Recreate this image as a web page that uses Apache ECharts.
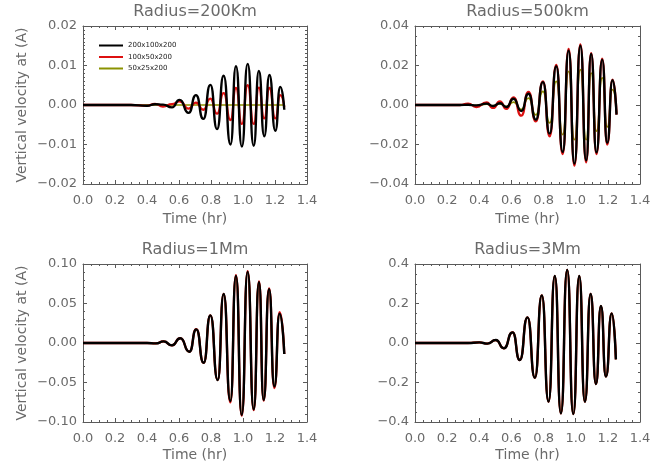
<!DOCTYPE html>
<html lang="en">
<head>
<meta charset="utf-8">
<title>Vertical velocity</title>
<script src="https://cdn.jsdelivr.net/npm/echarts@6/dist/echarts.min.js"></script>
<style>
    html, body { margin: 0; padding: 0; background: #fff; }
    #chart { width: 665px; height: 475px; }
</style>
</head>
<body>
<div id="chart"></div>
<script>
// ---- data (time in hr, velocity) ----
var names = ['200x100x200', '100x50x200', '50x25x200'];
var titles = ['Radius=200Km', 'Radius=500km', 'Radius=1Mm', 'Radius=3Mm'];

// Radius = 200 km
var t200 = [0.00, 0.30, 0.40, 0.45, 0.50, 0.556, 0.604, 0.660, 0.706, 0.752, 0.796, 0.838, 0.879, 0.922, 0.956, 0.993, 1.029, 1.067, 1.099, 1.133, 1.165, 1.202, 1.233, 1.258];
var black200 = [0, 0, -0.0002, 0.0002, 0.0001, -0.0006, 0.0013, -0.0020, 0.0025, -0.0035, 0.0051, -0.0061, 0.0074, -0.0100, 0.0098, -0.0105, 0.0104, -0.0103, 0.0086, -0.0079, 0.0076, -0.0065, 0.0046, -0.0012];
var red200 = [0, 0, -0.0002, 0.0003, -0.0004, 0.0002, 0.0009, -0.0009, 0.0006, -0.0012, 0.0016, -0.0022, 0.0030, -0.0038, 0.0043, -0.0048, 0.0050, -0.0048, 0.0044, -0.0034, 0.0043, -0.0034, 0.0025, -0.0005];
var olive200 = [0, 0, 0, 0, 0, 0, 0, 0, 0, 0, 0, 0, 0, 0, 0, 0, 0, 0, 0, 0, 0, 0, 0, 0];

// Radius = 500 km
var t500 = [0.00, 0.28, 0.33, 0.382, 0.445, 0.486, 0.528, 0.569, 0.613, 0.661, 0.706, 0.752, 0.796, 0.838, 0.879, 0.919, 0.956, 0.992, 1.029, 1.065, 1.096, 1.129, 1.165, 1.196, 1.229, 1.254];
var black500 = [0, 0, 0.0001, -0.0002, 0.0007, -0.0005, 0.0009, -0.0010, 0.0032, -0.0030, 0.0057, -0.0074, 0.0116, -0.0145, 0.0196, -0.0238, 0.0275, -0.0297, 0.0300, -0.0280, 0.0258, -0.0240, 0.0230, -0.0192, 0.0125, -0.0049];
var red500 = [0, 0, 0.0007, -0.0010, 0.0013, -0.0015, 0.0018, -0.0020, 0.0038, -0.0054, 0.0066, -0.0083, 0.0120, -0.0159, 0.0203, -0.0248, 0.0284, -0.0307, 0.0307, -0.0290, 0.0263, -0.0248, 0.0235, -0.0200, 0.0128, -0.0049];
var olive500 = [0, 0, 0.0002, -0.0003, 0.0004, -0.0004, 0.0006, -0.0008, 0.0015, -0.0022, 0.0035, -0.0050, 0.0069, -0.0091, 0.0120, -0.0150, 0.0170, -0.0176, 0.0179, -0.0176, 0.0162, -0.0133, 0.0137, -0.0111, 0.0078, -0.0040];

// Radius = 1 Mm (the three runs lie on top of each other)
var t1m = [0.00, 0.40, 0.455, 0.504, 0.556, 0.608, 0.665, 0.708, 0.754, 0.796, 0.842, 0.879, 0.921, 0.956, 0.992, 1.029, 1.067, 1.100, 1.129, 1.163, 1.196, 1.229, 1.258];
var black1m = [0, 0, -0.0005, 0.002, -0.003, 0.006, -0.011, 0.0173, -0.025, 0.035, -0.047, 0.062, -0.0734, 0.085, -0.091, 0.090, -0.084, 0.077, -0.072, 0.068, -0.055, 0.037, -0.014];
var red1m = [0, 0, -0.0005, 0.002, -0.003, 0.006, -0.011, 0.0175, -0.025, 0.035, -0.047, 0.062, -0.075, 0.086, -0.092, 0.091, -0.085, 0.078, -0.073, 0.069, -0.057, 0.039, -0.014];
var olive1m = black1m;

// Radius = 3 Mm
var t3m = [0.00, 0.33, 0.40, 0.45, 0.503, 0.553, 0.607, 0.652, 0.700, 0.746, 0.789, 0.831, 0.870, 0.908, 0.947, 0.985, 1.022, 1.057, 1.093, 1.126, 1.157, 1.188, 1.224, 1.250];
var black3m = [0, 0, 0.003, -0.003, 0.015, -0.027, 0.054, -0.086, 0.130, -0.176, 0.241, -0.297, 0.339, -0.356, 0.370, -0.360, 0.339, -0.297, 0.248, -0.208, 0.187, -0.170, 0.150, -0.083];
var red3m = black3m;
var olive3m = black3m;

var yMax = [0.02, 0.04, 0.10, 0.4];
var yStep = [0.01, 0.02, 0.05, 0.2];
var yDigits = [2, 2, 2, 1];
var yMinorSplit = [10, 4, 5, 4];

// ---- layout ----
var boxes = [[83, 26, 224, 158], [415, 26, 225, 158], [83, 264, 224, 158], [415, 264, 225, 158]];
var panels = [
    {t: t200, lines: [black200, red200, olive200]},
    {t: t500, lines: [black500, red500, olive500]},
    {t: t1m, lines: [black1m, red1m, olive1m]},
    {t: t3m, lines: [black3m, red3m, olive3m]}
];
var colors = ['#000000', '#dd1010', '#8a9200'];
var widths = [2.4, 2.3, 1.7];
var font = 'DejaVu Sans';
var gray = '#6a6a6a';
var axisGray = '#5a5a5a';

function fmt(d) {
    return function (v) {
        if (Math.abs(v) < 1e-9) v = 0;
        return v.toFixed(d).replace('-', '\u2212');
    };
}

var grid = [], xAxis = [], yAxis = [], series = [], graphic = [];

boxes.forEach(function (b, i) {
    grid.push({left: b[0], top: b[1], width: b[2], height: b[3]});
    graphic.push({
        type: 'text', x: b[0] + b[2] / 2, y: b[1] - 14,
        style: {text: titles[i], fill: gray, font: '16px "' + font + '"', align: 'center', verticalAlign: 'middle'}
    });

    var xCommon = {
        type: 'value', gridIndex: i, min: 0, max: 1.4, interval: 0.2,
        splitLine: {show: false},
        axisLine: {onZero: false, lineStyle: {color: axisGray, width: 1}},
        axisTick: {inside: true, length: 4, lineStyle: {color: axisGray}},
        minorTick: {show: true, splitNumber: 4, length: 2, lineStyle: {color: axisGray}}
    };
    xAxis.push(Object.assign({}, xCommon, {
        position: 'bottom',
        name: 'Time (hr)', nameLocation: 'middle', nameGap: i < 2 ? 28 : 26,
        nameTextStyle: {color: gray, fontSize: 14, fontFamily: font},
        axisLabel: {color: gray, fontSize: 13, fontFamily: font, margin: 10, formatter: fmt(1)}
    }));
    xAxis.push(Object.assign({}, xCommon, {position: 'top', axisLabel: {show: false}}));

    var yCommon = {
        type: 'value', gridIndex: i, min: -yMax[i], max: yMax[i], interval: yStep[i],
        splitLine: {show: false},
        axisLine: {onZero: false, lineStyle: {color: axisGray, width: 1}},
        axisTick: {inside: true, length: 4, lineStyle: {color: axisGray}},
        minorTick: {show: true, splitNumber: yMinorSplit[i], length: 2, lineStyle: {color: axisGray}}
    };
    yAxis.push(Object.assign({}, yCommon, {
        position: 'left',
        name: (i % 2 === 0) ? 'Vertical velocity at (A)' : '',
        nameLocation: 'middle', nameGap: 54, nameRotate: 90,
        nameTextStyle: {color: gray, fontSize: 14, fontFamily: font},
        axisLabel: {color: gray, fontSize: 13, fontFamily: font, margin: 6, formatter: fmt(yDigits[i])}
    }));
    yAxis.push(Object.assign({}, yCommon, {position: 'right', axisLabel: {show: false}}));

    var p = panels[i];
    // olive at the bottom, red over it, black on top
    [2, 1, 0].forEach(function (k, order) {
        series.push({
            name: names[k], type: 'line',
            xAxisIndex: 2 * i, yAxisIndex: 2 * i,
            data: p.t.map(function (x, j) { return [x, p.lines[k][j]]; }),
            showSymbol: false, smooth: 0.6, smoothMonotone: 'x', z: 2 + order,
            lineStyle: {color: colors[k], width: widths[k]},
            itemStyle: {color: colors[k]},
            animation: false
        });
    });
});

var chart = echarts.init(document.getElementById('chart'));
chart.setOption({
    animation: false,
    backgroundColor: '#ffffff',
    grid: grid,
    xAxis: xAxis,
    yAxis: yAxis,
    series: series,
    graphic: graphic,
    legend: {
        data: names, orient: 'vertical', left: 99, top: 41, padding: 0,
        icon: 'rect', itemWidth: 24, itemHeight: 2, itemGap: 2.5,
        textStyle: {color: '#222', fontSize: 7, fontFamily: font, lineHeight: 9},
        selectedMode: false
    }
});
</script>
</body>
</html>
